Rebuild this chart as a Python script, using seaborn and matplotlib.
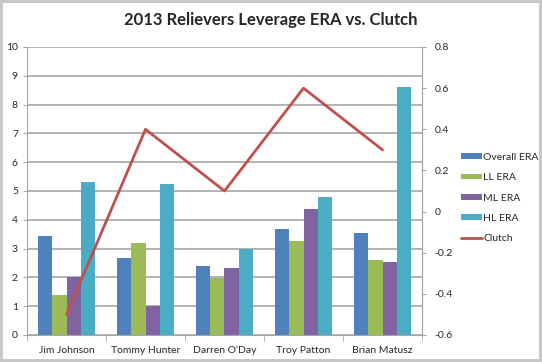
import pandas as pd
import numpy as np
import seaborn as sns
import matplotlib.pyplot as plt
from matplotlib.patches import Patch
from matplotlib.lines import Line2D

# data
players = ["Jim Johnson", "Tommy Hunter", "Darren O'Day", "Troy Patton", "Brian Matusz"]
overall_era = [3.45, 2.68, 2.40, 3.68, 3.55]
ll_era = [1.40, 3.20, 1.98, 3.28, 2.60]
ml_era = [2.02, 1.02, 2.33, 4.38, 2.52]
hl_era = [5.32, 5.25, 3.00, 4.78, 8.60]
clutch = [-0.50, 0.40, 0.10, 0.60, 0.30]

series = ["Overall ERA", "LL ERA", "ML ERA", "HL ERA"]
colors = ["#4F81BD", "#9BBB59", "#8064A2", "#4BACC6"]
line_color = "#C0504D"

df = pd.DataFrame({"player": players, "Overall ERA": overall_era, "LL ERA": ll_era,
                   "ML ERA": ml_era, "HL ERA": hl_era})
df_long = df.melt(id_vars="player", var_name="series", value_name="era")

sns.set_style("white")
plt.rcParams["font.family"] = ["Lato", "DejaVu Sans"]

fig = plt.figure(figsize=(5.42, 3.62), dpi=100)
fig.patch.set_edgecolor("#c8c8c8")
fig.patch.set_linewidth(3)
ax = fig.add_axes([27 / 542, 1 - 335 / 362, (422 - 27) / 542, (335 - 47) / 362])

sns.barplot(data=df_long, x="player", y="era", hue="series", hue_order=series,
            palette=colors, width=0.72, gap=0, saturation=1, linewidth=0,
            ax=ax, legend=False)
ax.set_ylim(0, 10)
ax.set_yticks(range(0, 11))
ax.set_xlim(-0.5, 4.5)
ax.yaxis.grid(True, color="#a6a6a6", linewidth=1.2)
ax.set_axisbelow(True)
ax.set_xlabel("")
ax.set_ylabel("")
ax.spines["top"].set_visible(False)
for s in ["left", "bottom", "right"]:
    ax.spines[s].set_color("#a6a6a6")
ax.tick_params(axis="y", labelsize=7.5, length=3, color="#a6a6a6", left=True)
ax.tick_params(axis="x", labelsize=7.5, length=0, pad=8)
ax.set_xticks(np.arange(-0.5, 5.0, 1.0), minor=True)
ax.tick_params(axis="x", which="minor", length=4, color="#a6a6a6", bottom=True)

ax2 = ax.twinx()
sns.pointplot(x=players, y=clutch, ax=ax2, color=line_color, marker="",
              linestyle="-", linewidth=2, errorbar=None)
ax2.set_xlim(-0.5, 4.5)
ax2.set_ylim(-0.6, 0.8)
ax2.set_yticks(np.arange(-0.6, 0.81, 0.2))
ax2.set_yticklabels(["-0.6", "-0.4", "-0.2", "0", "0.2", "0.4", "0.6", "0.8"])
ax2.tick_params(axis="y", labelsize=7.5, length=3, color="#a6a6a6", right=True, pad=6)
for s in ["top", "left", "bottom"]:
    ax2.spines[s].set_visible(False)
ax2.spines["right"].set_color("#a6a6a6")

handles = [Patch(facecolor=c, edgecolor="none") for c in colors]
handles.append(Line2D([], [], color=line_color, linewidth=2))
fig.legend(handles, series + ["Clutch"], loc="center left",
           bbox_to_anchor=(452 / 542, 1 - 198 / 362), frameon=False, fontsize=7.5,
           handlelength=2.0, handleheight=0.45, handletextpad=0.1, labelspacing=1.1)

fig.text(0.5, 1 - 20 / 362, "2013 Relievers Leverage ERA vs. Clutch", ha="center",
         va="center", fontsize=12, fontweight="bold")

fig.savefig("out.png", dpi=100)
